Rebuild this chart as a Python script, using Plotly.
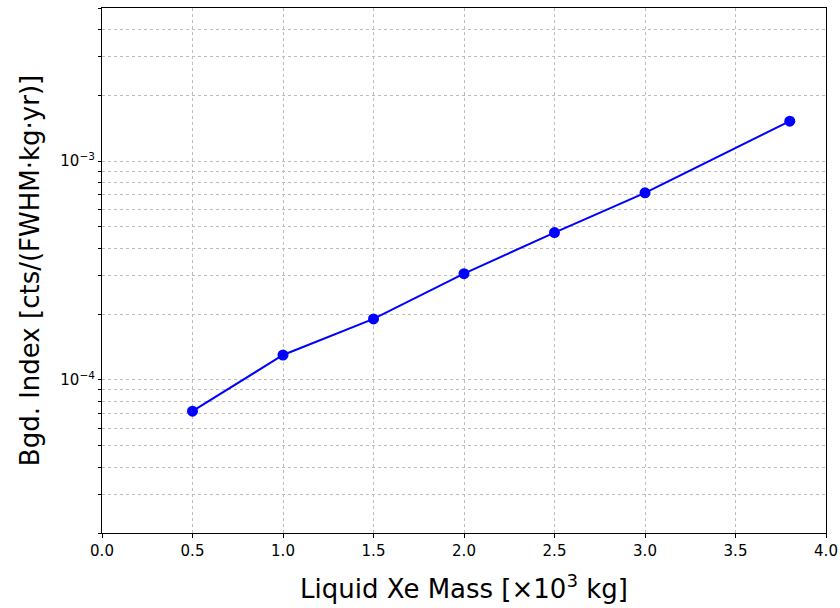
import numpy as np
import plotly.graph_objects as go

# Liquid Xe mass (x10^3 kg) and background index (cts/(FWHM·kg·yr))
mass = [0.5, 1.0, 1.5, 2.0, 2.5, 3.0, 3.8]
bgd_index = [7.2e-5, 1.30e-4, 1.90e-4, 3.06e-4, 4.71e-4, 7.16e-4, 1.52e-3]

# log-axis ticks: labelled decades plus unlabelled 2..9 minor positions
decades = [-5, -4, -3, -2]
y_tickvals = []
y_ticktext = []
for d in decades:
    for m in range(1, 10):
        y_tickvals.append(m * 10.0 ** d)
        y_ticktext.append(f"10<sup>\u2212{abs(d)}</sup>" if m == 1 else "")

x_tickvals = [0.0, 0.5, 1.0, 1.5, 2.0, 2.5, 3.0, 3.5, 4.0]
x_ticktext = [f"{v:.1f}" for v in x_tickvals]

fig = go.Figure()
fig.add_trace(go.Scatter(
    x=mass, y=bgd_index, mode="lines+markers",
    line=dict(color="#0000ff", width=2),
    marker=dict(color="#0000ff", size=11),
    showlegend=False,
))

font = "DejaVu Sans, sans-serif"
fig.update_layout(
    width=840, height=608,
    margin=dict(l=102, r=14, t=8, b=75),
    paper_bgcolor="white", plot_bgcolor="white",
    font=dict(family=font, color="black"),
)
fig.update_xaxes(
    range=[0, 4], tickvals=x_tickvals, ticktext=x_ticktext,
    tickfont=dict(size=15), ticks="outside", ticklen=4, tickcolor="black",
    showline=True, linecolor="black", linewidth=1.2, mirror=True,
    showgrid=True, gridcolor="#bdbdbd", griddash="dot", gridwidth=1,
    zeroline=False, automargin=False,
    title=dict(text="Liquid Xe Mass [\u00d710<sup>3</sup> kg]",
               font=dict(size=26), standoff=20),
)
fig.update_yaxes(
    type="log", range=[np.log10(2e-5), np.log10(5e-3)],
    tickvals=y_tickvals, ticktext=y_ticktext,
    tickfont=dict(size=15), ticks="outside", ticklen=3, tickcolor="black",
    showline=True, linecolor="black", linewidth=1.2, mirror=True,
    showgrid=True, gridcolor="#bdbdbd", griddash="dot", gridwidth=1,
    zeroline=False, automargin=False,
    title=dict(text="Bgd. Index [cts/(FWHM\u00b7kg\u00b7yr)]",
               font=dict(size=26), standoff=13),
)

fig.write_html("out.html")
